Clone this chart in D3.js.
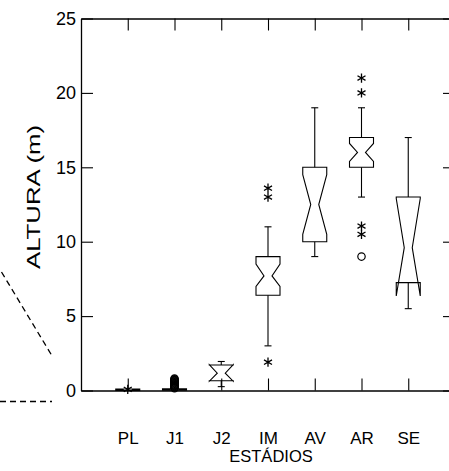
<!DOCTYPE html>
<html>
<head>
<meta charset="utf-8">
<script src="https://cdn.jsdelivr.net/npm/d3@7"></script>
<style>
  html, body { margin: 0; padding: 0; background: #fff; }
  svg { display: block; }
  text { font-family: "Liberation Sans", Arial, sans-serif; fill: #000; }
</style>
</head>
<body>
<div id="chart"></div>
<script>
// ---- data ----
const categories = ["PL", "J1", "J2", "IM", "AV", "AR", "SE"];
const q1Values      = [0.00, 0.02, 0.66, 6.40, 10.0, 15.0, 7.25];
const medianValues  = [0.05, 0.07, 1.16, 7.70, 12.5, 16.0, 9.60];
const q3Values      = [0.10, 0.12, 1.71, 9.00, 15.0, 17.0, 13.0];
const notchLoValues = [0.04, 0.06, 0.62, 7.00, 10.5, 15.4, 6.35];
const notchHiValues = [0.06, 0.08, 1.74, 8.50, 14.5, 16.6, 12.9];
const whiskerLo     = [0.00, 0.02, 0.26, 3.00, 9.00, 13.0, 5.50];
const whiskerHi     = [0.10, 0.12, 1.95, 11.0, 19.0, 19.0, 17.0];

const starCats   = ["PL", "IM", "IM", "IM", "AR", "AR", "AR", "AR"];
const starValues = [0.08, 13.6, 13.0, 1.9, 21.0, 20.0, 11.05, 10.5];

const circleCats   = ["J1","J1","J1","J1","J1","J1","J1","J1","J1","J1","J1","J1","J1","J1","AR"];
const circleValues = [0.15,0.2,0.25,0.3,0.35,0.4,0.45,0.5,0.55,0.6,0.65,0.7,0.75,0.8,9.0];

const yTicks = [0, 5, 10, 15, 20, 25];
const yLabel = "ALTURA (m)";
const xLabel = "ESTÁDIOS";

// ---- layout ----
const W = 449, H = 471;
const mLeft = 81, mRight = 455, mTop = 18.5, mBottom = 390.5;

const svg = d3.select("#chart").append("svg")
  .attr("width", W).attr("height", H);
svg.append("rect").attr("width", W).attr("height", H).attr("fill", "#fff");

const x = d3.scalePoint().domain(categories).range([mLeft, mRight]).padding(1);
const y = d3.scaleLinear().domain([0, 25]).range([mBottom, mTop]);

const axStyle = (g, fs) => {
  g.selectAll("path.domain").attr("stroke", "#000").attr("stroke-width", 1.3);
  g.selectAll(".tick line").attr("stroke", "#000").attr("stroke-width", 1.1);
  g.selectAll("text").attr("font-size", fs).attr("fill", "#000")
    .attr("font-family", "Liberation Sans, Arial, sans-serif");
};

// left axis
svg.append("g").attr("transform", `translate(${mLeft},0)`)
  .call(d3.axisLeft(y).tickValues(yTicks).tickSizeInner(-12).tickSizeOuter(0).tickPadding(5))
  .call(axStyle, 18);
// right axis
svg.append("g").attr("transform", `translate(${mRight},0)`)
  .call(d3.axisRight(y).tickValues(yTicks).tickSizeInner(-12).tickSizeOuter(0).tickFormat(""))
  .call(axStyle, 18);
// top axis
svg.append("g").attr("transform", `translate(0,${mTop})`)
  .call(d3.axisTop(x).tickSizeInner(-12).tickSizeOuter(0).tickFormat(""))
  .call(axStyle, 18);
// bottom axis
svg.append("g").attr("transform", `translate(0,${mBottom})`)
  .call(d3.axisBottom(x).tickSizeInner(-12).tickSizeOuter(0).tickPadding(41))
  .call(axStyle, 17);

// axis titles
svg.append("text")
  .attr("x", x("IM") + 3)
  .attr("y", 462)
  .attr("text-anchor", "middle")
  .attr("font-size", 16.5)
  .text(xLabel);

svg.append("text")
  .attr("transform", `translate(40,197) rotate(-90)`)
  .attr("text-anchor", "middle")
  .attr("font-size", 19)
  .attr("textLength", 144)
  .attr("lengthAdjust", "spacingAndGlyphs")
  .text(yLabel);

// stray dashed lines at left edge
svg.append("line").attr("x1", 1.5).attr("y1", 272).attr("x2", 51.5).attr("y2", 355)
  .attr("stroke", "#000").attr("stroke-width", 1.3).attr("stroke-dasharray", "6,4");
svg.append("line").attr("x1", 0).attr("y1", 401.5).attr("x2", 52).attr("y2", 401.5)
  .attr("stroke", "#000").attr("stroke-width", 1.3).attr("stroke-dasharray", "6,4");

// ---- boxes ----
const boxHalf = 12, innerHalf = 4, capHalf = 3.5;
const stats = categories.map((c, i) => ({
  c, q1: q1Values[i], med: medianValues[i], q3: q3Values[i],
  nlo: notchLoValues[i], nhi: notchHiValues[i],
  wlo: whiskerLo[i], whi: whiskerHi[i]
}));

const g = svg.append("g").attr("fill", "none").attr("stroke", "#000").attr("stroke-width", 1.1);

stats.forEach(s => {
  const cx = x(s.c);
  if (s.whi > s.q3) {
    g.append("line").attr("x1", cx).attr("x2", cx).attr("y1", y(s.q3)).attr("y2", y(s.whi));
    g.append("line").attr("x1", cx - capHalf).attr("x2", cx + capHalf).attr("y1", y(s.whi)).attr("y2", y(s.whi));
  }
  if (s.wlo < s.q1) {
    g.append("line").attr("x1", cx).attr("x2", cx).attr("y1", y(s.q1)).attr("y2", y(s.wlo));
    g.append("line").attr("x1", cx - capHalf).attr("x2", cx + capHalf).attr("y1", y(s.wlo)).attr("y2", y(s.wlo));
  }
  const xl = cx - boxHalf, xr = cx + boxHalf;
  const pts = [
    [xl, y(s.q3)], [xl, y(s.nhi)], [cx - innerHalf, y(s.med)], [xl, y(s.nlo)], [xl, y(s.q1)],
    [xr, y(s.q1)], [xr, y(s.nlo)], [cx + innerHalf, y(s.med)], [xr, y(s.nhi)], [xr, y(s.q3)]
  ];
  g.append("path").attr("d", d3.line()(pts) + "Z").attr("stroke-linejoin", "miter");
});

// ---- outliers ----
const star = d3.symbol().type(d3.symbolAsterisk).size(60);
starCats.forEach((c, i) => {
  g.append("path").attr("d", star())
    .attr("transform", `translate(${x(c)},${y(starValues[i])})`)
    .attr("stroke-width", 1.3);
});
circleCats.forEach((c, i) => {
  g.append("circle").attr("cx", x(c)).attr("cy", y(circleValues[i])).attr("r", 3.7)
    .attr("stroke-width", 1.2);
});
</script>
</body>
</html>
